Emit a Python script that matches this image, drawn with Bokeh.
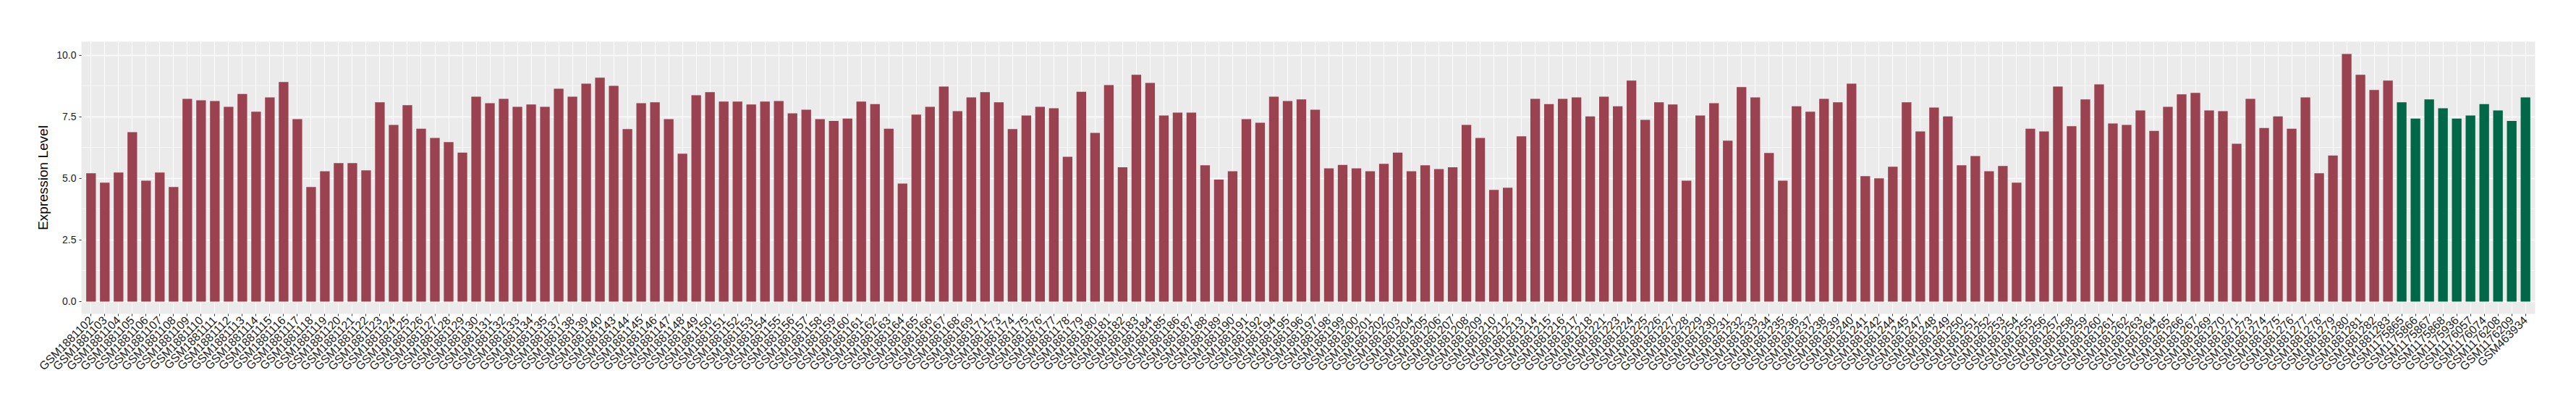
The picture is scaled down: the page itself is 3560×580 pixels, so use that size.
import math
from bokeh.plotting import figure
from bokeh.models import FactorRange, Range1d, FixedTicker, PrintfTickFormatter
from bokeh.embed import file_html
from bokeh.resources import INLINE

tumor_samples = (
    ["GSM%d" % n for n in range(1881102, 1881136)]
    + ["GSM1881137", "GSM1881138", "GSM1881139", "GSM1881140"]
    + ["GSM%d" % n for n in range(1881143, 1881170)]
    + ["GSM1881171"]
    + ["GSM%d" % n for n in range(1881173, 1881193)]
    + ["GSM%d" % n for n in range(1881194, 1881211)]
    + ["GSM%d" % n for n in range(1881212, 1881219)]
    + ["GSM1881221"]
    + ["GSM%d" % n for n in range(1881223, 1881243)]
    + ["GSM1881244", "GSM1881245"]
    + ["GSM%d" % n for n in range(1881247, 1881268)]
    + ["GSM1881269", "GSM1881270", "GSM1881271"]
    + ["GSM%d" % n for n in range(1881273, 1881284)]
)

tumor_values = [
    5.21, 4.83, 5.24, 6.88, 4.91, 5.24, 4.65, 8.23, 8.17, 8.14,
    7.91, 8.43, 7.71, 8.29, 8.91, 7.41, 4.65, 5.29, 5.62, 5.62,
    5.33, 8.09, 7.17, 7.97, 7.02, 6.64, 6.47, 6.05, 8.32, 8.05,
    8.23, 7.91, 8.00, 7.91,
    8.64, 8.32, 8.85, 9.09,
    8.76, 7.00, 8.05, 8.09, 7.41, 6.00, 8.38, 8.50, 8.12, 8.12,
    8.00, 8.12, 8.14, 7.64, 7.79, 7.41, 7.33, 7.43, 8.12, 8.02,
    7.02, 4.79, 7.59, 7.91, 8.73, 7.73, 8.29,
    8.50,
    8.09, 7.00, 7.55, 7.91, 7.85, 5.88, 8.52, 6.85, 8.79, 5.45,
    9.21, 8.88, 7.55, 7.67, 7.67, 5.53, 4.95, 5.29, 7.41, 7.26,
    8.32, 8.14, 8.21, 7.79, 5.41, 5.55, 5.41, 5.29, 5.59, 6.05,
    5.29, 5.53, 5.38, 5.45, 7.17, 6.64, 4.53,
    4.62, 6.71, 8.23, 8.02, 8.23, 8.29, 7.52,
    8.32,
    7.93, 8.97, 7.38, 8.09, 8.00, 4.91, 7.55, 8.05, 6.53, 8.71,
    8.29, 6.03, 4.91, 7.93, 7.71, 8.23, 8.09, 8.85, 5.09, 5.00,
    5.47, 8.09,
    6.91, 7.88, 7.52, 5.53, 5.91, 5.29, 5.50, 4.83, 7.02, 6.91,
    8.73, 7.12, 8.21, 8.82, 7.23, 7.17, 7.76, 6.93, 7.91, 8.41,
    8.47,
    7.76, 7.73, 6.41,
    8.23, 7.05, 7.52, 7.02, 8.29, 5.21, 5.93, 10.05, 9.21, 8.59,
    8.97,
]

normal_samples = [
    "GSM1175865", "GSM1175866", "GSM1175867", "GSM1175868", "GSM1175936",
    "GSM1176057", "GSM1176074", "GSM1176208", "GSM1176209", "GSM463934",
]
normal_values = [8.09, 7.43, 8.21, 7.85, 7.43, 7.55, 8.02, 7.76, 7.33, 8.29]

y_ticks = [0, 2.5, 5, 7.5, 10]
y_minor_ticks = [1.25, 3.75, 6.25, 8.75]
y_title = "Expression Level"

samples = tumor_samples + normal_samples
FONT = "Liberation Sans"

p = figure(
    x_range=FactorRange(factors=samples, range_padding=0.2, range_padding_units="absolute"),
    y_range=Range1d(-0.5025, 10.5525),
    width=3560, height=580,
    output_backend="svg", toolbar_location=None,
    min_border_left=112, min_border_right=57, min_border_top=57, min_border_bottom=147,
)

p.vbar(x=tumor_samples, top=tumor_values, width=0.7, fill_color="#9A4250", line_color=None)
p.vbar(x=normal_samples, top=normal_values, width=0.7, fill_color="#006846", line_color=None)

p.background_fill_color = "#EBEBEB"
p.border_fill_color = "white"
p.outline_line_color = None

p.xgrid.grid_line_color = "white"
p.xgrid.grid_line_width = 1.1
p.ygrid.grid_line_color = "white"
p.ygrid.grid_line_width = 1.4
p.ygrid.minor_grid_line_color = "white"
p.ygrid.minor_grid_line_width = 0.6

p.yaxis.ticker = FixedTicker(ticks=y_ticks, minor_ticks=y_minor_ticks)
p.yaxis.formatter = PrintfTickFormatter(format="%.1f")
p.yaxis.axis_label = y_title
p.yaxis.axis_label_text_font = FONT
p.yaxis.axis_label_text_font_size = "19px"
p.yaxis.axis_label_text_font_style = "normal"
p.yaxis.axis_label_text_color = "black"
p.yaxis.axis_label_standoff = 5

for ax in (p.xaxis[0], p.yaxis[0]):
    ax.axis_line_color = None
    ax.major_tick_line_color = "#333333"
    ax.major_tick_line_width = 1
    ax.major_tick_out = 3
    ax.major_tick_in = 0
    ax.minor_tick_line_color = None
    ax.major_label_text_font = FONT
    ax.major_label_text_color = "#1A1A1A"
    ax.major_label_standoff = 3

p.yaxis.major_label_text_font_size = "14px"
p.xaxis.major_label_text_font_size = "16px"
p.xaxis.major_label_orientation = math.pi / 4

open("out.html", "w").write(file_html(p, INLINE))
